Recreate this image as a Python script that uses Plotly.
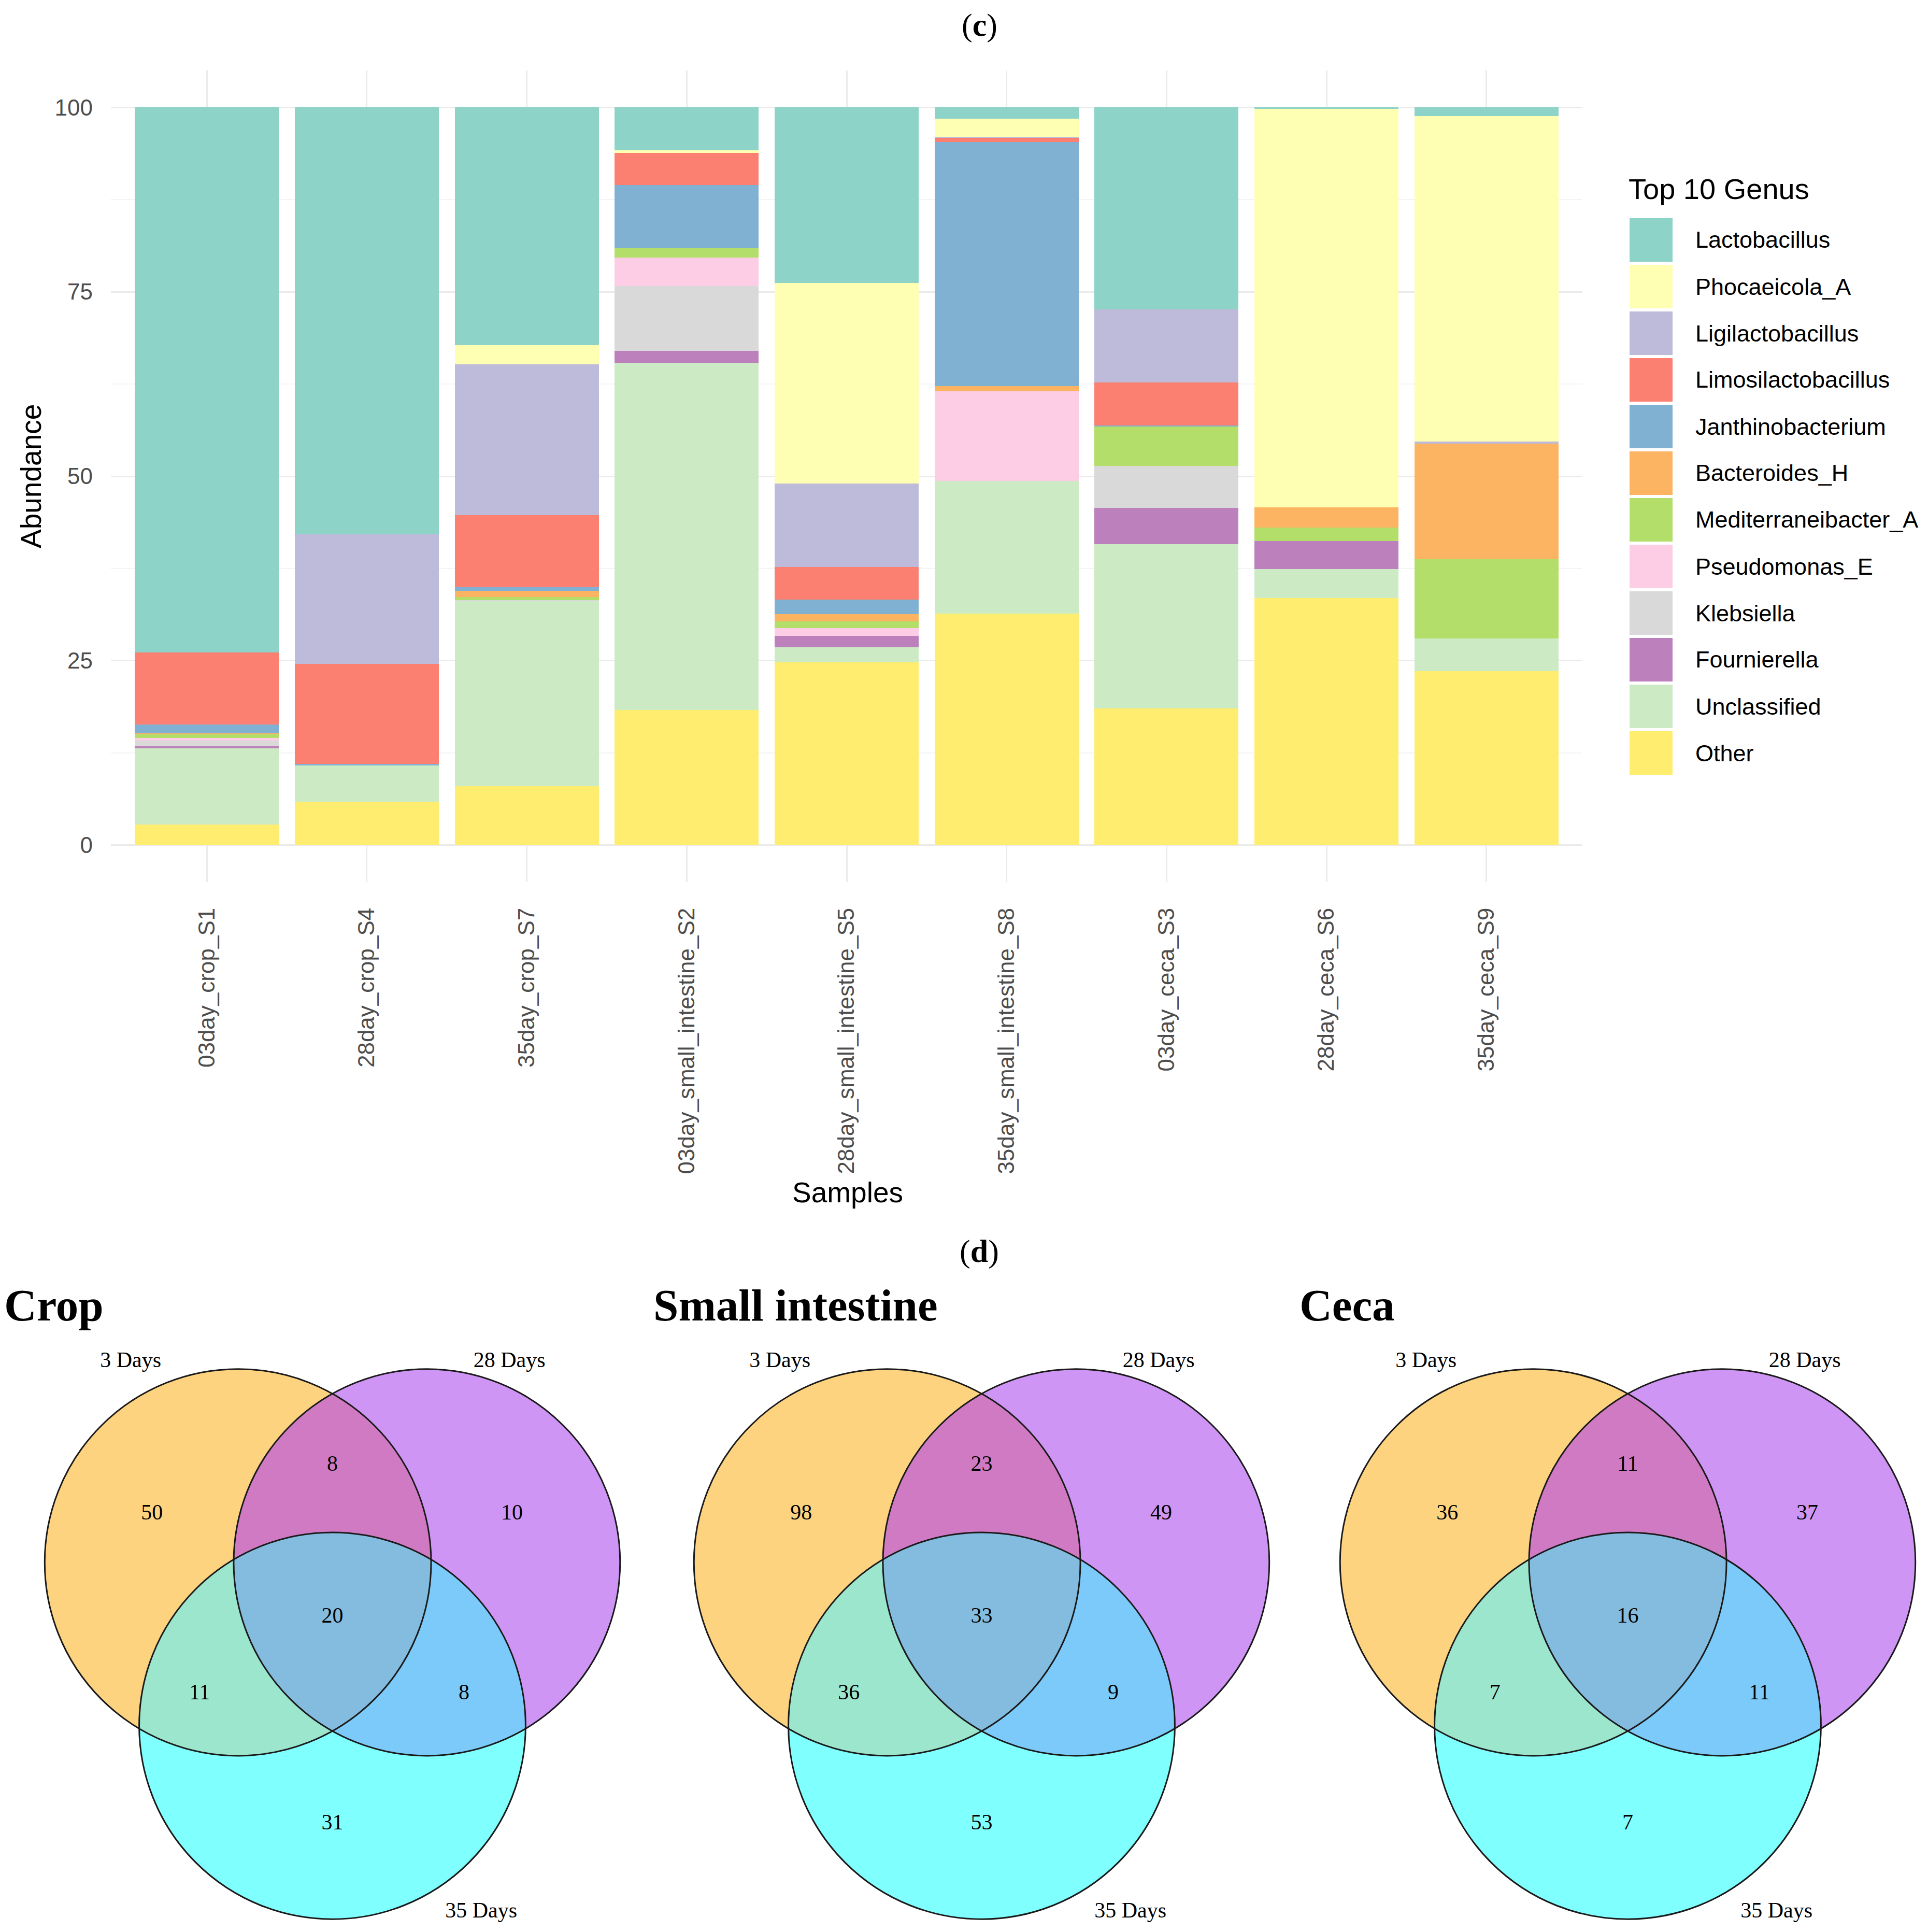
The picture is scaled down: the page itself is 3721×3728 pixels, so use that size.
import math
import plotly.graph_objects as go

# ---------------- data: stacked bar (panel c) ----------------
samples = ["03day_crop_S1", "28day_crop_S4", "35day_crop_S7",
           "03day_small_intestine_S2", "28day_small_intestine_S5", "35day_small_intestine_S8",
           "03day_ceca_S3", "28day_ceca_S6", "35day_ceca_S9"]

other = [2.8, 5.9, 8.0, 18.3, 24.8, 31.4, 18.5, 33.5, 23.6]
unclassified = [10.3, 4.9, 25.1, 47.1, 2.0, 18.0, 22.3, 3.9, 4.4]
fournierella = [0.3, 0, 0, 1.6, 1.6, 0, 4.9, 3.8, 0]
klebsiella = [0.8, 0, 0.1, 8.8, 0, 0, 5.7, 0, 0]
pseudomonas_e = [0.35, 0, 0, 3.85, 1.05, 12.1, 0, 0, 0]
mediterraneibacter_a = [0.5, 0, 0.4, 1.25, 0.85, 0, 5.4, 1.85, 10.75]
bacteroides_h = [0.1, 0, 0.85, 0, 1.05, 0.7, 0, 2.75, 15.65]
janthinobacterium = [1.2, 0.2, 0.55, 8.6, 1.9, 33.1, 0.1, 0, 0]
limosilactobacillus = [9.8, 13.6, 9.75, 4.3, 4.45, 0.55, 5.8, 0, 0]
ligilactobacillus = [0, 17.5, 20.4, 0, 11.3, 0.15, 9.9, 0, 0.3]
phocaeicola_a = [0, 0, 2.6, 0.4, 27.2, 2.45, 0, 54.0, 44.1]
lactobacillus = [73.85, 57.9, 32.25, 5.8, 23.8, 1.55, 27.4, 0.2, 1.2]

# legend order (top to bottom)
genus_names = ["Lactobacillus", "Phocaeicola_A", "Ligilactobacillus", "Limosilactobacillus",
               "Janthinobacterium", "Bacteroides_H", "Mediterraneibacter_A", "Pseudomonas_E",
               "Klebsiella", "Fournierella", "Unclassified", "Other"]
genus_colors = ["#8DD3C7", "#FFFFB3", "#BEBADA", "#FB8072", "#80B1D3", "#FDB462",
                "#B3DE69", "#FCCDE5", "#D9D9D9", "#BC80BD", "#CCEBC5", "#FFED6F"]
genus_values = [lactobacillus, phocaeicola_a, ligilactobacillus, limosilactobacillus,
                janthinobacterium, bacteroides_h, mediterraneibacter_a, pseudomonas_e,
                klebsiella, fournierella, unclassified, other]
y_ticks = [0, 25, 50, 75, 100]

# ---------------- data: Venn diagrams (panel d) ----------------
venn_titles = ["Crop", "Small intestine", "Ceca"]
set_labels = ["3 Days", "28 Days", "35 Days"]
# regions: A only, B only, C only, A&B, A&C, B&C, A&B&C
crop_counts = [50, 10, 31, 8, 11, 8, 20]
small_intestine_counts = [98, 49, 53, 23, 36, 9, 33]
ceca_counts = [36, 37, 7, 11, 7, 11, 16]
venn_counts = [crop_counts, small_intestine_counts, ceca_counts]

# ---------------- geometry / style ----------------
W, H = 3721, 3728
def px(x):
    return x / W
def py(y):
    return 1 - y / H

SANS = "Liberation Sans"
SERIF = "Liberation Serif"

fig = go.Figure()

# bars: stacked bottom (Other) to top (Lactobacillus)
for name, color, vals in reversed(list(zip(genus_names, genus_colors, genus_values))):
    fig.add_trace(go.Bar(x=samples, y=vals, name=name, marker=dict(color=color, line=dict(width=0)),
                         xaxis="x", yaxis="y", showlegend=False, hoverinfo="x+y+name"))

# Venn geometry in circle-radius units
circle_centers = [(-0.489, 0.282), (0.489, 0.282), (0.0, -0.563)]
region_members = [(1, 0, 0), (0, 1, 0), (0, 0, 1), (1, 1, 0), (1, 0, 1), (0, 1, 1), (1, 1, 1)]
region_colors = ["#FED380", "#CF95F5", "#80FFFF", "#D07AC4", "#9CE6CD", "#7CCAF9", "#84BCDF"]
region_pos = [(-0.934, 0.531), (0.929, 0.531), (0.0, -1.072), (0.0, 0.785),
              (-0.687, -0.397), (0.681, -0.397), (0.0, 0.0)]
label_pos = [(-1.044, 1.319), (0.916, 1.319), (0.77, -1.525)]
panel_offsets = [0, 1253, 2500]
venn_axes = [("x2", "y2"), ("x3", "y3"), ("x4", "y4")]


def inside(p, c):
    return (p[0] - c[0]) ** 2 + (p[1] - c[1]) ** 2 < 1.0 - 1e-9


def circle_intersections(c1, c2):
    dx, dy = c2[0] - c1[0], c2[1] - c1[1]
    d = math.hypot(dx, dy)
    a = d / 2
    h = math.sqrt(1 - a * a)
    mx, my = c1[0] + dx * a / d, c1[1] + dy * a / d
    return [(mx - dy * h / d, my + dx * h / d), (mx + dy * h / d, my - dx * h / d)]


def region_polygon(member):
    arcs = []
    for i, c in enumerate(circle_centers):
        angs = []
        for j in range(3):
            if j != i:
                for p in circle_intersections(c, circle_centers[j]):
                    angs.append(math.atan2(p[1] - c[1], p[0] - c[0]) % (2 * math.pi))
        angs.sort()
        for k in range(len(angs)):
            a0 = angs[k]
            a1 = angs[(k + 1) % len(angs)]
            if a1 <= a0:
                a1 += 2 * math.pi
            am = (a0 + a1) / 2
            mp = (c[0] + math.cos(am), c[1] + math.sin(am))
            if all(inside(mp, circle_centers[j]) == bool(member[j]) for j in range(3) if j != i):
                arcs.append((i, a0, a1) if member[i] else (i, a1, a0))

    def pt(i, a):
        c = circle_centers[i]
        return (c[0] + math.cos(a), c[1] + math.sin(a))

    ordered = [arcs.pop(0)]
    while arcs:
        end = pt(ordered[-1][0], ordered[-1][2])
        best = min(range(len(arcs)), key=lambda n: math.dist(end, pt(arcs[n][0], arcs[n][1])))
        ordered.append(arcs.pop(best))
    xs, ys = [], []
    for i, s, e in ordered:
        for t in range(61):
            a = s + (e - s) * t / 60
            p = pt(i, a)
            xs.append(p[0])
            ys.append(p[1])
    return xs, ys


region_shapes = [region_polygon(m) for m in region_members]

shapes = []
annotations = []

for k, (xa, ya) in enumerate(venn_axes):
    counts = venn_counts[k]
    for (xs, ys), col in zip(region_shapes, region_colors):
        fig.add_trace(go.Scatter(x=xs, y=ys, mode="lines", fill="toself", fillcolor=col,
                                 line=dict(width=0, color=col), xaxis=xa, yaxis=ya,
                                 showlegend=False, hoverinfo="skip"))
    fig.add_trace(go.Scatter(x=[p[0] for p in region_pos], y=[p[1] for p in region_pos],
                             mode="text", text=[str(c) for c in counts],
                             textfont=dict(family=SERIF, size=42, color="#000000"),
                             xaxis=xa, yaxis=ya, showlegend=False, hoverinfo="skip"))
    fig.add_trace(go.Scatter(x=[p[0] for p in label_pos], y=[p[1] for p in label_pos],
                             mode="text", text=set_labels,
                             textfont=dict(family=SERIF, size=42, color="#000000"),
                             xaxis=xa, yaxis=ya, showlegend=False, hoverinfo="skip"))
    for (cx, cy) in circle_centers:
        shapes.append(dict(type="circle", xref=xa, yref=ya, x0=cx - 1, x1=cx + 1,
                           y0=cy - 1, y1=cy + 1, fillcolor="rgba(0,0,0,0)",
                           line=dict(color="#1A1A1A", width=3), layer="above"))
    annotations.append(dict(text="<b>%s</b>" % venn_titles[k], x=px(-2 + panel_offsets[k]),
                            y=py(2510), xref="paper", yref="paper", xanchor="left",
                            yanchor="middle", showarrow=False,
                            font=dict(family=SERIF, size=87, color="#000000")))

# custom legend
annotations.append(dict(text="Top 10 Genus", x=px(3133), y=py(357), xref="paper", yref="paper",
                        xanchor="left", yanchor="middle", showarrow=False,
                        font=dict(family=SANS, size=56, color="#000000")))
for i, (name, color) in enumerate(zip(genus_names, genus_colors)):
    cy = 455 + 90 * i
    shapes.append(dict(type="rect", xref="paper", yref="paper", x0=px(3137), x1=px(3220),
                       y0=py(cy + 42), y1=py(cy - 42), fillcolor=color, line=dict(width=0)))
    annotations.append(dict(text=name, x=px(3262), y=py(cy), xref="paper", yref="paper",
                            xanchor="left", yanchor="middle", showarrow=False,
                            font=dict(family=SANS, size=45, color="#000000")))

# panel titles and axis titles
annotations.append(dict(text="(<b>c</b>)", x=px(1882), y=py(41), xref="paper", yref="paper",
                        xanchor="center", yanchor="middle", showarrow=False,
                        font=dict(family=SERIF, size=62, color="#000000")))
annotations.append(dict(text="(<b>d</b>)", x=px(1882), y=py(2406), xref="paper", yref="paper",
                        xanchor="center", yanchor="middle", showarrow=False,
                        font=dict(family=SERIF, size=62, color="#000000")))
annotations.append(dict(text="Samples", x=px(1628), y=py(2293), xref="paper", yref="paper",
                        xanchor="center", yanchor="middle", showarrow=False,
                        font=dict(family=SANS, size=55, color="#000000")))
annotations.append(dict(text="Abundance", x=px(52), y=py(911), xref="paper", yref="paper",
                        xanchor="center", yanchor="middle", showarrow=False, textangle=-90,
                        font=dict(family=SANS, size=55, color="#000000")))

venn_axis_common = dict(visible=False, showgrid=False, zeroline=False, fixedrange=True)
layout = dict(
    width=W, height=H, autosize=False,
    margin=dict(l=0, r=0, t=0, b=0, pad=0),
    paper_bgcolor="white", plot_bgcolor="white",
    barmode="stack", bargap=0.1,
    showlegend=False,
    xaxis=dict(domain=[px(206), px(3046)], range=[-0.6, 8.6], type="category",
               categoryorder="array", categoryarray=samples,
               tickangle=-90, tickfont=dict(family=SANS, size=44, color="#4D4D4D"),
               showgrid=True, gridcolor="#EBEBEB", gridwidth=3, showline=False,
               ticks="", zeroline=False, ticklabelstandoff=40, anchor="y"),
    yaxis=dict(domain=[py(1694), py(128)], range=[-5, 105], tickvals=y_ticks,
               tickfont=dict(family=SANS, size=44, color="#4D4D4D"),
               showgrid=True, gridcolor="#EBEBEB", gridwidth=3, zeroline=False,
               showline=False, ticks="", ticklabelstandoff=34, anchor="x",
               minor=dict(dtick=12.5, tick0=0, showgrid=True, gridcolor="#F4F4F4", gridwidth=1.5)),
    shapes=shapes, annotations=annotations,
)
for k, (xa, ya) in enumerate(venn_axes):
    off = panel_offsets[k]
    layout["xaxis" + xa[1:]] = dict(domain=[px(55.5 + off), px(1211.5 + off)], range=[-1.55, 1.55],
                                    anchor=ya, **venn_axis_common)
    layout["yaxis" + ya[1:]] = dict(domain=[py(3709), py(2515)], range=[-1.6, 1.6],
                                    anchor=xa, **venn_axis_common)

fig.update_layout(**layout)
fig.write_html("out.html")
